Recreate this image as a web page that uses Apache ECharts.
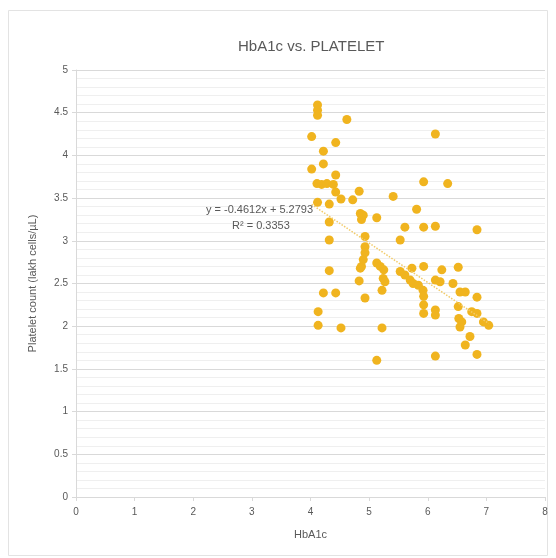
<!DOCTYPE html>
<html>
<head>
<meta charset="utf-8">
<script src="https://cdn.jsdelivr.net/npm/echarts@6/dist/echarts.min.js"></script>
<style>
html,body{margin:0;padding:0;background:#fff;}
#chart{width:556px;height:558px;}
</style>
</head>
<body>
<div id="chart"></div>
<script>
// HbA1c values (x)
const hba1c = [
  4.12,4.12,4.12,4.62,4.02,4.43,4.22,4.02,4.22,4.43,
  4.11,4.19,4.28,4.39,4.43,4.83,4.52,4.72,4.12,4.32,
  5.41,5.81,4.85,4.90,4.87,5.13,4.32,5.61,6.13,5.93,
  6.34,5.93,6.13,6.84,4.32,4.93,4.93,4.93,4.90,4.87,
  4.85,5.53,5.13,5.19,5.25,5.24,5.27,5.22,4.83,4.93,
  5.53,5.61,5.70,5.75,5.84,5.92,5.73,5.93,6.24,6.52,
  4.32,4.22,4.43,4.13,4.13,4.52,5.22,5.13,5.93,5.93,
  5.93,6.13,6.13,6.13,6.21,6.43,6.55,6.64,6.84,6.52,
  6.75,6.84,6.53,6.58,6.55,6.95,7.04,6.72,6.64,6.13,
  6.84
];
// Platelet count values (y), lakh cells/µL
const platelet = [
  4.59,4.53,4.47,4.42,4.22,4.15,4.05,3.84,3.90,3.77,
  3.67,3.66,3.67,3.66,3.57,3.58,3.49,3.48,3.45,3.43,
  3.52,3.37,3.32,3.30,3.25,3.27,3.22,3.16,4.25,3.69,
  3.67,3.16,3.17,3.13,3.01,3.05,2.93,2.86,2.78,2.70,
  2.68,3.01,2.74,2.70,2.66,2.56,2.52,2.42,2.53,2.33,
  2.64,2.60,2.54,2.50,2.48,2.42,2.68,2.70,2.66,2.69,
  2.65,2.39,2.39,2.17,2.01,1.98,1.98,1.60,2.35,2.25,
  2.15,2.19,2.13,2.54,2.52,2.50,2.40,2.40,2.34,2.23,
  2.17,2.15,2.09,2.05,1.99,2.05,2.01,1.88,1.78,1.65,
  1.67
];
// Trendline coefficients as printed on the chart
const slope = -0.4612;
const intercept = 5.2793;
const rSquared = 0.3353;
const xTicks = [0,1,2,3,4,5,6,7,8];
const yTicks = [0,0.5,1,1.5,2,2.5,3,3.5,4,4.5,5];

const points = hba1c.map((x, i) => [x, platelet[i]]);
const xMin = Math.min(...hba1c), xMax = Math.max(...hba1c);
const trend = [[xMin, slope * xMin + intercept], [xMax, slope * xMax + intercept]];

const FONT = "'Liberation Sans', 'DejaVu Sans', sans-serif";
const chart = echarts.init(document.getElementById('chart'), null, {renderer: 'canvas'});
chart.setOption({
  backgroundColor: '#ffffff',
  animation: false,
  title: {
    text: 'HbA1c vs. PLATELET',
    left: 233, top: 34,
    textStyle: {fontFamily: FONT, fontSize: 15, fontWeight: 'normal', color: '#595959'}
  },
  grid: {left: 76, right: 11, top: 70, bottom: 61},
  xAxis: {
    type: 'value', min: xTicks[0], max: xTicks[xTicks.length - 1], interval: 1,
    name: 'HbA1c', nameLocation: 'middle', nameGap: 32,
    nameTextStyle: {fontFamily: FONT, fontSize: 11, color: '#595959'},
    axisLine: {show: true, lineStyle: {color: '#d9d9d9', width: 1}},
    axisTick: {show: true, length: 4, lineStyle: {color: '#d9d9d9'}},
    axisLabel: {fontFamily: FONT, fontSize: 10, color: '#595959', margin: 10},
    splitLine: {show: false}
  },
  yAxis: {
    type: 'value', min: yTicks[0], max: yTicks[yTicks.length - 1], interval: 0.5,
    name: 'Platelet count (lakh cells/µL)', nameLocation: 'middle', nameGap: 38,
    nameTextStyle: {fontFamily: FONT, fontSize: 11, color: '#595959'},
    axisLine: {show: true, lineStyle: {color: '#d9d9d9', width: 1}},
    axisTick: {show: true, length: 4, lineStyle: {color: '#d9d9d9'}},
    axisLabel: {fontFamily: FONT, fontSize: 10, color: '#595959', margin: 8},
    splitLine: {show: true, lineStyle: {color: '#d9d9d9', width: 1}},
    minorTick: {show: false, splitNumber: 5},
    minorSplitLine: {show: true, lineStyle: {color: '#efefef', width: 1}}
  },
  series: [
    {
      type: 'scatter', data: points, symbolSize: 9,
      itemStyle: {color: '#F0B41F', opacity: 1},
      z: 3
    },
    {
      type: 'line', data: trend, symbol: 'none',
      lineStyle: {color: '#F2CB6A', width: 1.5, type: 'dotted'},
      z: 4
    }
  ],
  graphic: [
    {type: 'rect', shape: {x: 8.5, y: 10.5, width: 539, height: 545},
     style: {fill: 'none', stroke: '#e3e3e3', lineWidth: 1}, silent: true},
    {type: 'text', left: 206, top: 204,
     style: {text: 'y = ' + slope + 'x + ' + intercept, font: '11px ' + FONT, fill: '#595959'}, z: 10},
    {type: 'text', left: 232, top: 220,
     style: {text: 'R² = ' + rSquared, font: '11px ' + FONT, fill: '#595959'}, z: 10}
  ]
});
</script>
</body>
</html>
